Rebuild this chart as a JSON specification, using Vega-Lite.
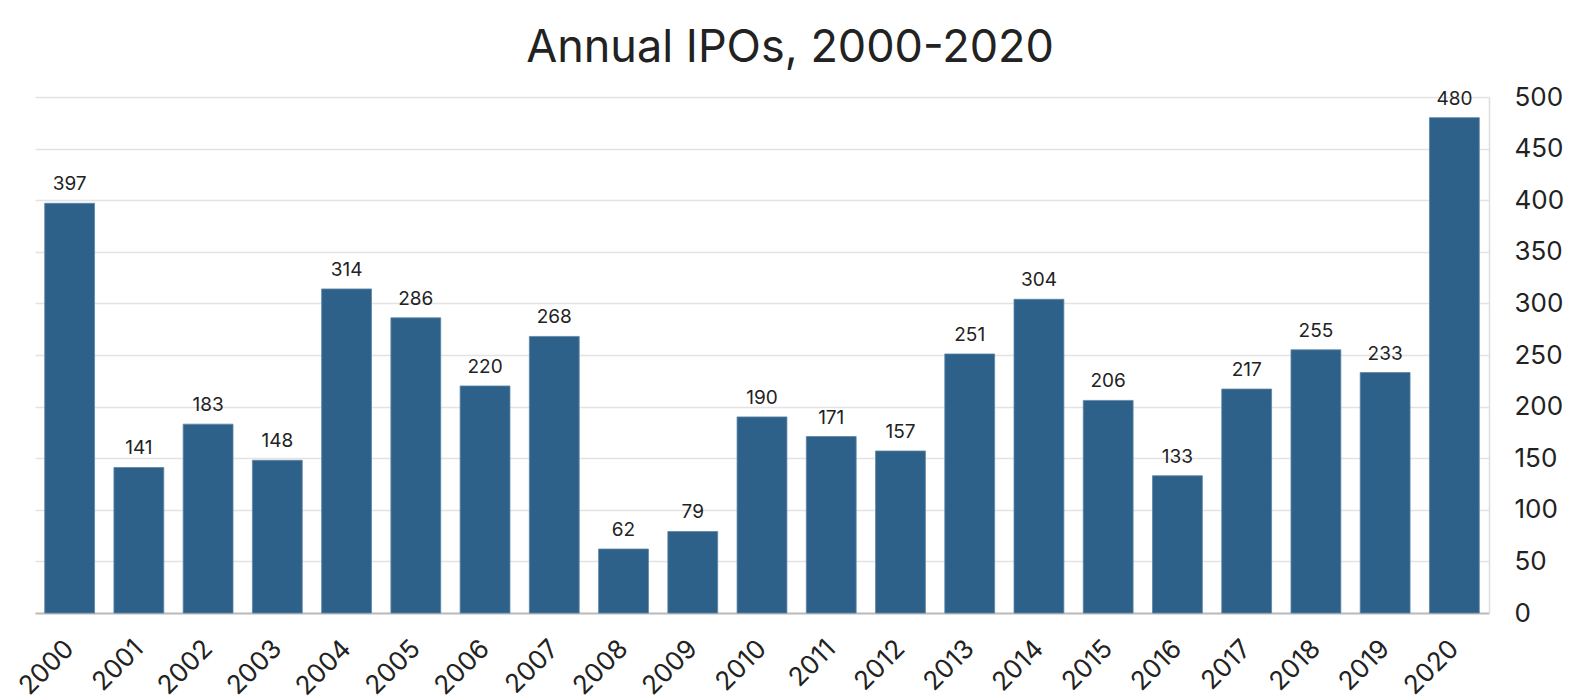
{
  "$schema": "https://vega.github.io/schema/vega-lite/v6.json",
  "width": 1454,
  "height": 516,
  "autosize": {"type": "none"},
  "padding": {"left": 35, "top": 97, "right": 91, "bottom": 87},
  "background": "white",
  "title": {
    "text": "Annual IPOs, 2000-2020",
    "fontSize": 45,
    "font": "Inter",
    "fontWeight": "normal",
    "color": "#222222",
    "anchor": "middle",
    "offset": 13,
    "dx": 28
  },
  "config": {
    "view": {"stroke": null},
    "font": "Inter"
  },
  "data": {
    "values": [
      {"year": "2000", "ipos": 397},
      {"year": "2001", "ipos": 141},
      {"year": "2002", "ipos": 183},
      {"year": "2003", "ipos": 148},
      {"year": "2004", "ipos": 314},
      {"year": "2005", "ipos": 286},
      {"year": "2006", "ipos": 220},
      {"year": "2007", "ipos": 268},
      {"year": "2008", "ipos": 62},
      {"year": "2009", "ipos": 79},
      {"year": "2010", "ipos": 190},
      {"year": "2011", "ipos": 171},
      {"year": "2012", "ipos": 157},
      {"year": "2013", "ipos": 251},
      {"year": "2014", "ipos": 304},
      {"year": "2015", "ipos": 206},
      {"year": "2016", "ipos": 133},
      {"year": "2017", "ipos": 217},
      {"year": "2018", "ipos": 255},
      {"year": "2019", "ipos": 233},
      {"year": "2020", "ipos": 480}
    ]
  },
  "encoding": {
    "x": {
      "field": "year",
      "type": "ordinal",
      "scale": {"paddingInner": 0.28, "paddingOuter": 0.14},
      "axis": {
        "title": null,
        "labelAngle": -45,
        "labelFontSize": 26,
        "labelColor": "#222222",
        "labelPadding": 22,
        "labelOffset": -9,
        "ticks": false,
        "domainColor": "#bbbbbb",
        "domainWidth": 2,
        "grid": false
      }
    },
    "y": {
      "field": "ipos",
      "type": "quantitative",
      "scale": {"domain": [0, 500]},
      "axis": {
        "orient": "right",
        "title": null,
        "values": [0, 50, 100, 150, 200, 250, 300, 350, 400, 450, 500],
        "labelFontSize": 26,
        "labelColor": "#222222",
        "labelPadding": 25,
        "ticks": false,
        "domainColor": "#dddddd",
        "domainWidth": 1.5,
        "gridColor": "#e3e3e3",
        "gridWidth": 1.5
      }
    }
  },
  "layer": [
    {
      "mark": {"type": "bar", "color": "#2e6189", "stroke": "#5d85a6", "strokeWidth": 0.8}
    },
    {
      "mark": {"type": "text", "baseline": "bottom", "dy": -9, "fontSize": 19, "color": "#222222", "font": "Inter"},
      "encoding": {"text": {"field": "ipos", "type": "quantitative"}}
    }
  ]
}
